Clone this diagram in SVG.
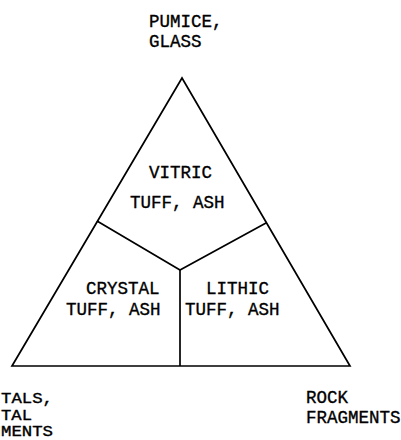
<svg xmlns="http://www.w3.org/2000/svg" width="401" height="440" viewBox="0 0 401 440">
<style>
text{font-family:"Liberation Mono","DejaVu Sans Mono",monospace;font-size:17.5px;fill:#000;stroke:#000;stroke-width:0.35}
.sm{font-size:14.5px}
.ln{fill:none;stroke:#000;stroke-width:1.7;stroke-linejoin:miter}
</style>
<rect width="401" height="440" fill="#fff"/>
<g id="connectors">
<polygon class="ln" points="182,78 12,366 350,366"/>
<polyline class="ln" points="97,221 180,270 266,223"/>
<line class="ln" x1="180" y1="270" x2="180" y2="366"/>
</g>
<g id="apex-pumice-glass">
<text x="149" y="27">PUMICE,</text>
<text x="149" y="47">GLASS</text>
</g>
<g id="corner-crystals">
<text class="sm" x="1" y="403" textLength="52" lengthAdjust="spacingAndGlyphs">TALS,</text>
<text class="sm" x="1" y="420" textLength="31" lengthAdjust="spacingAndGlyphs">TAL</text>
<text class="sm" x="1" y="436" textLength="52" lengthAdjust="spacingAndGlyphs">MENTS</text>
</g>
<g id="corner-rock-fragments">
<text x="306" y="403">ROCK</text>
<text x="306" y="423">FRAGMENTS</text>
</g>
<g id="field-vitric">
<text x="149" y="178">VITRIC</text>
<text x="130" y="208">TUFF, ASH</text>
</g>
<g id="field-crystal">
<text x="86" y="294">CRYSTAL</text>
<text x="66" y="315">TUFF, ASH</text>
</g>
<g id="field-lithic">
<text x="206" y="294">LITHIC</text>
<text x="185" y="315">TUFF, ASH</text>
</g>
</svg>
